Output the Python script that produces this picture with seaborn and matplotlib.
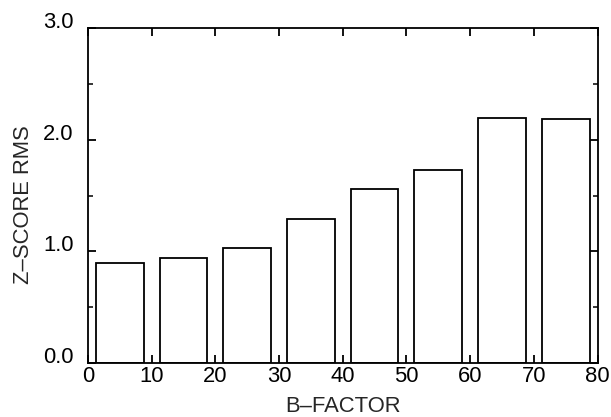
import matplotlib
matplotlib.use("Agg")
import matplotlib.pyplot as plt
import seaborn as sns
import pandas as pd

# Data
bin_centers = [5, 15, 25, 35, 45, 55, 65, 75]
zscore_rms = [0.895, 0.94, 1.033, 1.293, 1.557, 1.728, 2.198, 2.189]
x_ticks = [0, 10, 20, 30, 40, 50, 60, 70, 80]
y_major = [0.0, 1.0, 2.0, 3.0]
y_labels = ["0.0", "1.0", "2.0", "3.0"]
y_minor = [0.5, 1.5, 2.5]

sns.set_style("ticks")
plt.rcParams["font.family"] = ["Liberation Sans", "DejaVu Sans"]

df = pd.DataFrame({"bfactor": bin_centers, "rms": zscore_rms})

fig = plt.figure(figsize=(6.11, 4.17), dpi=100)
ax = fig.add_axes([88 / 611, 1 - 363 / 417, (597.5 - 88) / 611, (363 - 28.3) / 417])

sns.barplot(data=df, x="bfactor", y="rms", native_scale=True, width=0.75,
            color="white", edgecolor="black", linewidth=1.3, ax=ax,
            errorbar=None)

ax.set_xlim(0, 80)
ax.set_ylim(0, 3.0)
ax.set_xticks(x_ticks)
ax.set_xticklabels([str(t) for t in x_ticks])
ax.set_yticks(y_major)
ax.set_yticklabels(y_labels)
ax.set_yticks(y_minor, minor=True)

for s in ax.spines.values():
    s.set_visible(True)
    s.set_linewidth(1.3)
    s.set_color("black")

ax.tick_params(axis="both", which="major", direction="in", length=6,
               width=1.3, top=True, right=True, labelsize=15.8, colors="black")
ax.tick_params(axis="y", which="minor", direction="in", length=3.3,
               width=1.3, left=True, right=True)
ax.tick_params(axis="x", which="major", pad=2)
ax.tick_params(axis="y", which="major", pad=10.5)
for lab in ax.get_yticklabels():
    lab.set_verticalalignment("baseline")

ax.set_xlabel("B–FACTOR", fontsize=15.8, labelpad=7)
ax.set_ylabel("Z–SCORE RMS", fontsize=15.8)
ax.yaxis.label.set_verticalalignment("center")
ax.yaxis.set_label_coords((23.5 - 88) / 509.5, (363 - 205) / 334.7)

fig.savefig("out.png", dpi=100)
